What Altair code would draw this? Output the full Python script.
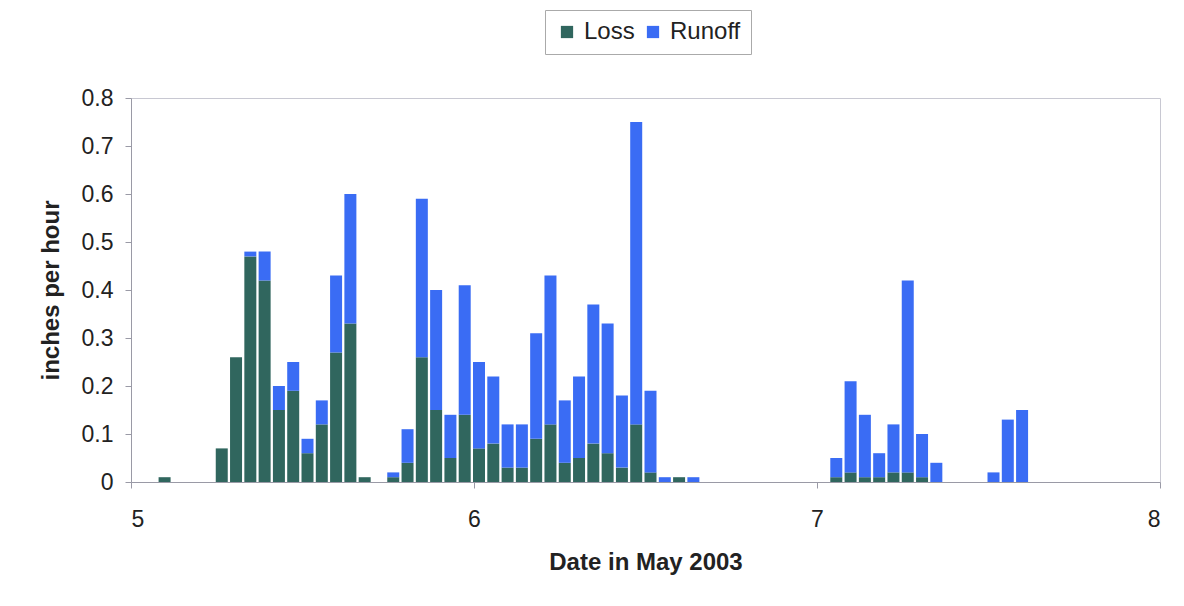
import altair as alt
import pandas as pd

# hour index counted from the start of May 5, 2003
hours = list(range(2, 63))
loss = [0.01, 0, 0, 0, 0.07, 0.26, 0.47, 0.42, 0.15, 0.19, 0.06, 0.12, 0.27, 0.33, 0.01, 0,
        0.01, 0.04, 0.26, 0.15, 0.05, 0.14, 0.07, 0.08, 0.03, 0.03, 0.09, 0.12, 0.04, 0.05, 0.08, 0.06,
        0.03, 0.12, 0.02, 0, 0.01, 0, 0, 0, 0, 0, 0, 0, 0, 0, 0,
        0.01, 0.02, 0.01, 0.01, 0.02, 0.02, 0.01, 0, 0, 0, 0, 0, 0, 0]
runoff = [0, 0, 0, 0, 0, 0, 0.01, 0.06, 0.05, 0.06, 0.03, 0.05, 0.16, 0.27, 0, 0,
          0.01, 0.07, 0.33, 0.25, 0.09, 0.27, 0.18, 0.14, 0.09, 0.09, 0.22, 0.31, 0.13, 0.17, 0.29, 0.27,
          0.15, 0.63, 0.17, 0.01, 0, 0.01, 0, 0, 0, 0, 0, 0, 0, 0, 0,
          0.04, 0.19, 0.13, 0.05, 0.10, 0.40, 0.09, 0.04, 0, 0, 0, 0.02, 0.13, 0.15]

series = ["Loss", "Runoff"]
colors = ["#30665E", "#3A6CF4"]

rows = []
for h, l, r in zip(hours, loss, runoff):
    day = 5 + (h + 0.35) / 24
    rows.append({"day": day, "series": "Loss", "value": l, "ord": 0})
    rows.append({"day": day, "series": "Runoff", "value": r, "ord": 1})
df = pd.DataFrame(rows)

FONT = "Liberation Sans"

chart = alt.Chart(df).mark_bar(size=12).encode(
    x=alt.X("day:Q", scale=alt.Scale(domain=[5, 8], nice=False, zero=False, padding=0),
            axis=alt.Axis(values=[5, 6, 7, 8], title="Date in May 2003", format="d",
                          labelFontSize=23, labelPadding=20, tickSize=6,
                          titleFontSize=24, titleFontWeight="bold", titlePadding=19,
                          grid=False, domainColor="#9a9aa6", tickColor="#9a9aa6")),
    y=alt.Y("value:Q", stack="zero", scale=alt.Scale(domain=[0, 0.8], nice=False),
            axis=alt.Axis(values=[0, 0.1, 0.2, 0.3, 0.4, 0.5, 0.6, 0.7, 0.8], format=".1~f",
                          title="inches per hour", labelFontSize=23, labelPadding=12, tickSize=6,
                          titleFontSize=24, titleFontWeight="bold", titlePadding=18,
                          grid=False, domainColor="#9a9aa6", tickColor="#9a9aa6")),
    color=alt.Color("series:N", scale=alt.Scale(domain=series, range=colors),
                    legend=alt.Legend(title=None, orient="none", legendX=414, legendY=-88,
                                      direction="horizontal", symbolType="square",
                                      symbolSize=150, labelFontSize=24, labelOffset=5,
                                      columnPadding=6, padding=10, strokeColor="#aaaaaa",
                                      symbolStrokeWidth=0)),
    order=alt.Order("ord:Q"),
).properties(
    width=1029, height=384,
    autosize=alt.AutoSizeParams(type="none"),
    padding={"left": 123, "top": 90, "right": 16, "bottom": 116},
).configure(font=FONT).configure_view(stroke="#c8c8d2", strokeWidth=1).configure_axis(
    labelColor="#222222", titleColor="#222222", labelFont=FONT, titleFont=FONT
).configure_legend(labelColor="#222222", labelFont=FONT)

chart.save("out.html", embed_options={"renderer": "svg", "actions": False})
